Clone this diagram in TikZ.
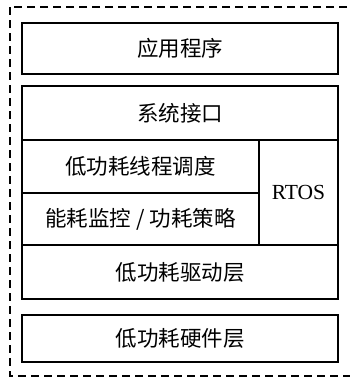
\documentclass[tikz,border=0pt]{standalone}
\usepackage{fontspec}
\setmainfont{Liberation Serif}
\newfontfamily\cjk{Noto Sans CJK SC}
\begin{document}
\begin{tikzpicture}[x=1pt,y=-1pt,
  box/.style={draw=black, line width=2pt, anchor=north west, inner sep=0pt, font=\cjk\fontsize{21.5}{23}\selectfont},
  frame/.style={draw=black, line width=1.3pt, dash pattern=on 8pt off 5pt}]
\useasboundingbox (0,0) rectangle (350,380);
\begin{scope}
\clip (0,0) rectangle (350,380);
\draw[frame] (10,7) rectangle (362,376);
\end{scope}
\node[box, minimum width=316pt, minimum height=51pt] (app) at (21,22) {应用程序};
\node[box, minimum width=316pt, minimum height=54pt] (sys) at (21,85) {系统接口};
\node[box, minimum width=237pt, minimum height=53pt] (sched) at (21,139) {低功耗线程调度};
\node[box, minimum width=237pt, minimum height=52pt] (energy) at (21,192) {能耗监控 / 功耗策略};
\node[box, minimum width=79pt, minimum height=105pt, font=\fontsize{21.5}{23}\selectfont] (rtos) at (258,139) {RTOS};
\node[box, minimum width=316pt, minimum height=54pt] (drv) at (21,244) {低功耗驱动层};
\node[box, minimum width=316pt, minimum height=47pt] (hw) at (21,314) {低功耗硬件层};
\end{tikzpicture}
\end{document}
